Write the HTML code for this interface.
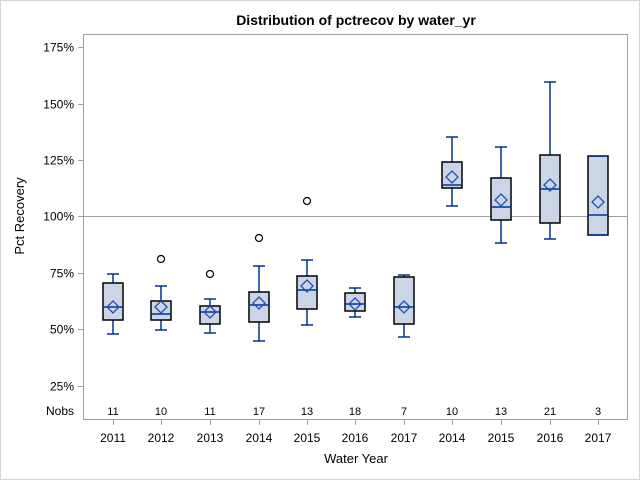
<!DOCTYPE html>
<html><head><style>body{margin:0;background:#fff}svg{display:block}text{font-family:"Liberation Sans",Arial,sans-serif;fill:#000}</style></head>
<body>
<svg width="640" height="480" xmlns="http://www.w3.org/2000/svg">
<defs><path id="dm" d="M0 -6L6 0L0 6L-6 0Z" fill="none" stroke="#1f4fb5" stroke-width="1.3"/></defs>
<rect x="0.5" y="0.5" width="639" height="479" fill="#fff" stroke="#d4d4d4"/>
<text x="356" y="25" font-size="14" font-weight="bold" text-anchor="middle">Distribution of pctrecov by water_yr</text>
<rect x="83.5" y="34.5" width="544" height="385" fill="none" stroke="#a0a0a0"/>
<line x1="84" y1="216.5" x2="627" y2="216.5" stroke="#a0a0a0"/>
<g stroke="#a0a0a0">
<line x1="78" y1="47.5" x2="83" y2="47.5"/><line x1="78" y1="104.5" x2="83" y2="104.5"/><line x1="78" y1="160.5" x2="83" y2="160.5"/><line x1="78" y1="216.5" x2="83" y2="216.5"/><line x1="78" y1="273.5" x2="83" y2="273.5"/><line x1="78" y1="329.5" x2="83" y2="329.5"/><line x1="78" y1="386.5" x2="83" y2="386.5"/>
</g>
<g font-size="12" text-anchor="end">
<text x="74" y="51.5">175%</text><text x="74" y="108.5">150%</text><text x="74" y="164.5">125%</text><text x="74" y="220.5">100%</text><text x="74" y="277.5">75%</text><text x="74" y="333.5">50%</text><text x="74" y="390.5">25%</text>
<text x="74" y="415">Nobs</text>
</g>
<text transform="translate(24,216) rotate(-90)" font-size="13" text-anchor="middle">Pct Recovery</text>
<text x="356" y="463" font-size="13" text-anchor="middle">Water Year</text>

<g stroke="#003399" stroke-width="1.5" fill="none">
<path d="M113 274V334M107 274H119M107 334H119"/>
<path d="M161 286V330M155 286H167M155 330H167"/>
<path d="M210 299V333M204 299H216M204 333H216"/>
<path d="M259 266V341M253 266H265M253 341H265"/>
<path d="M307 260V325M301 260H313M301 325H313"/>
<path d="M355 288V317M349 288H361M349 317H361"/>
<path d="M404 275V337M398 275H410M398 337H410"/>
<path d="M452 137V206M446 137H458M446 206H458"/>
<path d="M501 147V243M495 147H507M495 243H507"/>
<path d="M550 82V239M544 82H556M544 239H556"/>
</g>
<g fill="#cbd5e5" stroke="#000" stroke-width="1.5">
<rect x="103" y="283" width="20" height="37"/>
<rect x="151" y="301" width="20" height="19"/>
<rect x="200" y="306" width="20" height="18"/>
<rect x="249" y="292" width="20" height="30"/>
<rect x="297" y="276" width="20" height="33"/>
<rect x="345" y="293" width="20" height="18"/>
<rect x="394" y="277" width="20" height="47"/>
<rect x="442" y="162" width="20" height="26"/>
<rect x="491" y="178" width="20" height="42"/>
<rect x="540" y="155" width="20" height="68"/>
<rect x="588" y="156" width="20" height="79"/>
</g>
<g stroke="#003399" stroke-width="1.5">
<path d="M103 307H123M151 314H171M200 312H220M249 305H269M297 290H317M345 304H365M394 307H414M442 185H462M491 207H511M540 189H560M588 215H608M589 156H607M589 235H607"/>
</g>
<use href="#dm" x="113" y="307"/><use href="#dm" x="161" y="307"/><use href="#dm" x="210" y="312"/><use href="#dm" x="259" y="303"/><use href="#dm" x="307" y="286"/><use href="#dm" x="355" y="304"/><use href="#dm" x="404" y="307"/><use href="#dm" x="452" y="177"/><use href="#dm" x="501" y="200"/><use href="#dm" x="550" y="185"/><use href="#dm" x="598" y="202"/>
<g fill="none" stroke="#000" stroke-width="1.2">
<circle cx="161" cy="259" r="3.5"/><circle cx="210" cy="274" r="3.5"/><circle cx="259" cy="238" r="3.5"/><circle cx="307" cy="201" r="3.5"/>
</g>
<g font-size="11" text-anchor="middle">
<text x="113" y="415">11</text><text x="161" y="415">10</text><text x="210" y="415">11</text><text x="259" y="415">17</text><text x="307" y="415">13</text><text x="355" y="415">18</text><text x="404" y="415">7</text><text x="452" y="415">10</text><text x="501" y="415">13</text><text x="550" y="415">21</text><text x="598" y="415">3</text>
</g>
<g stroke="#a0a0a0">
<path d="M113.5 420V425M161.5 420V425M210.5 420V425M259.5 420V425M307.5 420V425M355.5 420V425M404.5 420V425M452.5 420V425M501.5 420V425M550.5 420V425M598.5 420V425"/>
</g>
<g font-size="12" text-anchor="middle">
<text x="113" y="442">2011</text><text x="161" y="442">2012</text><text x="210" y="442">2013</text><text x="259" y="442">2014</text><text x="307" y="442">2015</text><text x="355" y="442">2016</text><text x="404" y="442">2017</text><text x="452" y="442">2014</text><text x="501" y="442">2015</text><text x="550" y="442">2016</text><text x="598" y="442">2017</text>
</g>
</svg>
</body></html>
